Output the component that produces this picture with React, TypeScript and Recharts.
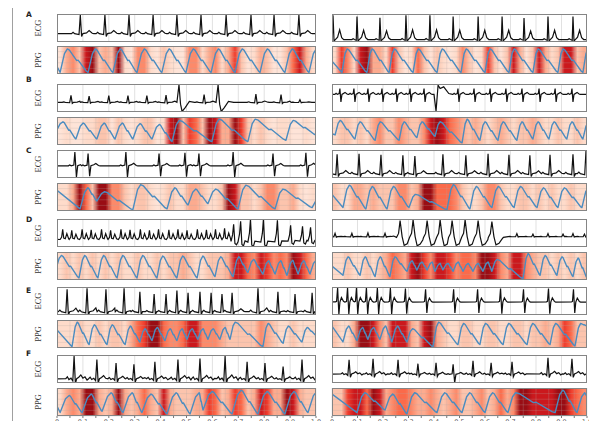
import React from "react";
import {
  ComposedChart,
  Line,
  XAxis,
  YAxis,
  CartesianGrid,
  ReferenceArea,
  ReferenceLine,
} from "recharts";

const ROW_LABELS = ["A", "B", "C", "D", "E", "F"];
const X_TICKS = [0, 0.05, 0.1, 0.15, 0.2, 0.25, 0.3, 0.35, 0.4, 0.45, 0.5, 0.55, 0.6, 0.65, 0.7, 0.75, 0.8, 0.85, 0.9, 0.95, 1];
const X_TICK_LABELS = ["0", "0.1", "0.2", "0.3", "0.4", "0.5", "0.6", "0.7", "0.8", "0.9", "1.0"];

// ecg beat shapes, [offset, value]
const TPL: Record<string, number[][]> = {
  n: [[-0.034, 0], [-0.028, 0.07], [-0.022, 0], [-0.005, -0.05], [0, 1], [0.005, -0.15], [0.01, 0], [0.024, 0.04], [0.034, 0.16], [0.046, 0.02], [0.052, 0]],
  t: [[-0.02, 0], [-0.015, 0.04], [-0.01, 0], [-0.003, -0.03], [0, 1], [0.004, -0.06], [0.009, 0], [0.018, 0.1], [0.026, 0.4], [0.034, 0.08], [0.042, 0]],
  rs: [[-0.02, 0], [-0.015, 0.06], [-0.01, 0], [-0.003, 0.05], [0, 0.35], [0.004, -0.45], [0.008, 0], [0.02, 0.12], [0.028, 0.02], [0.032, 0]],
  pd: [[-0.008, 0], [0, -1], [0.008, 0.55], [0.016, 0.35], [0.03, 0.45], [0.05, 0.05], [0.065, 0]],
  pu: [[-0.008, 0], [0, 1], [0.006, -0.1], [0.012, -0.52], [0.024, -0.3], [0.04, 0.05], [0.06, 0]],
  bi: [[-0.025, 0], [-0.02, 0.06], [-0.014, 0], [-0.004, 0.05], [0, 0.95], [0.006, -0.8], [0.011, 0], [0.022, 0.08], [0.03, 0.18], [0.04, 0.02], [0.046, 0]],
  bt: [[-0.006, 0.02], [-0.002, 0.05], [0.002, 0.95], [0.007, -0.8], [0.011, 0], [0.017, 0.3], [0.025, 0.05], [0.03, 0]],
  d: [[-0.008, -0.02], [-0.002, 0.1], [0.002, 0.5], [0.006, 0.05], [0.012, 0.02], [0.018, 0.28], [0.025, 0.02]],
  dt: [[-0.008, -0.15], [-0.002, 0.3], [0.002, 1], [0.007, -0.3], [0.013, -0.38], [0.019, -0.1]],
  vt: [[-0.014, -0.05], [-0.006, 0.2], [0, 1], [0.008, 0], [0.016, -0.55], [0.028, -0.45], [0.038, -0.2], [0.045, -0.05]],
  f: [[-0.032, 0.02], [-0.026, 0.1], [-0.02, -0.02], [-0.012, 0.04], [-0.005, -0.08], [0, 1], [0.005, -0.2], [0.01, 0.02], [0.018, 0.08], [0.026, 0.18], [0.034, 0.04], [0.042, 0.1], [0.05, -0.04], [0.056, 0.03]],
};

// ecg beats: [time, amplitude, shape]
const ECG_A_L = [[0.09, 1, "n"], [0.185, 1, "n"], [0.278, 1, "n"], [0.371, 1, "n"], [0.463, 1, "n"], [0.556, 1, "n"], [0.653, 1, "n"], [0.749, 1, "n"], [0.838, 1, "n"], [0.934, 1, "n"]];
const ECG_A_R = [[0.004, 1, "t"], [0.098, 0.95, "t"], [0.188, 0.9, "t"], [0.29, 1, "t"], [0.384, 1, "t"], [0.475, 0.95, "t"], [0.573, 0.95, "t"], [0.667, 0.95, "t"], [0.753, 0.88, "t"], [0.847, 0.95, "t"], [0.945, 0.95, "t"]];
const ECG_B_L = [[0.054, 0.4, "n"], [0.124, 0.36, "n"], [0.2, 0.38, "n"], [0.274, 0.38, "n"], [0.347, 0.38, "n"], [0.421, 0.42, "n"], [0.471, 1, "pu"], [0.568, 0.45, "n"], [0.622, 1, "pu"], [0.768, 0.48, "n"], [0.865, 0.45, "n"], [0.938, 0.15, "n"]];
const ECG_B_R = [[0.031, 1, "rs"], [0.086, 1, "rs"], [0.141, 1, "rs"], [0.196, 1, "rs"], [0.251, 1, "rs"], [0.306, 1, "rs"], [0.361, 1, "rs"], [0.408, 1, "pd"], [0.494, 1, "rs"], [0.557, 1, "rs"], [0.62, 1, "rs"], [0.682, 1, "rs"], [0.745, 1, "rs"], [0.812, 1, "rs"], [0.875, 1, "rs"], [0.941, 1, "rs"]];
const ECG_C_L = [[0.069, 1, "bi"], [0.12, 0.9, "bi"], [0.266, 1, "bi"], [0.394, 0.9, "bi"], [0.494, 0.95, "bi"], [0.548, 0.9, "bi"], [0.68, 1, "bi"], [0.834, 0.9, "bi"], [0.961, 0.95, "bi"]];
const ECG_C_R = [[0.02, 0.9, "n"], [0.106, 0.92, "n"], [0.192, 0.88, "n"], [0.278, 0.85, "n"], [0.325, 0.82, "n"], [0.435, 0.9, "n"], [0.525, 0.85, "n"], [0.612, 0.92, "n"], [0.694, 0.88, "n"], [0.776, 0.85, "n"], [0.855, 0.88, "n"], [0.945, 0.9, "n"], [0.996, 1.05, "n"]];
const ECG_D_L = [[0.02, 1, "d"], [0.055, 0.9, "d"], [0.095, 1, "d"], [0.13, 0.95, "d"], [0.17, 1, "d"], [0.205, 0.9, "d"], [0.245, 1, "d"], [0.28, 0.95, "d"], [0.32, 1, "d"], [0.355, 0.9, "d"], [0.39, 1, "d"], [0.43, 0.95, "d"], [0.465, 1, "d"], [0.5, 0.9, "d"], [0.54, 1, "d"], [0.575, 0.95, "d"], [0.61, 1, "d"], [0.645, 1.1, "d"], [0.68, 0.75, "dt"], [0.707, 0.9, "dt"], [0.745, 1, "dt"], [0.795, 1, "dt"], [0.849, 0.95, "dt"], [0.9, 0.7, "dt"], [0.946, 0.65, "dt"], [0.977, 0.6, "dt"]];
const ECG_D_R = [[0.012, 0.2, "n"], [0.078, 0.2, "n"], [0.141, 0.22, "n"], [0.208, 0.2, "n"], [0.267, 0.95, "vt"], [0.318, 1, "vt"], [0.373, 0.95, "vt"], [0.424, 1, "vt"], [0.471, 0.95, "vt"], [0.522, 1, "vt"], [0.573, 0.95, "vt"], [0.627, 0.9, "vt"], [0.725, 0.18, "n"], [0.788, 0.15, "n"], [0.847, 0.18, "n"], [0.906, 0.15, "n"], [0.945, 0.18, "n"], [0.99, 0.15, "n"]];
const ECG_E_L = [[0.039, 0.95, "n"], [0.116, 1, "n"], [0.189, 0.95, "n"], [0.259, 1, "n"], [0.32, 0.85, "n"], [0.375, 0.75, "n"], [0.421, 0.75, "n"], [0.463, 0.9, "n"], [0.506, 0.8, "n"], [0.552, 0.85, "n"], [0.595, 0.8, "n"], [0.637, 0.75, "n"], [0.676, 0.8, "n"], [0.776, 1, "n"], [0.853, 0.85, "n"], [0.919, 0.75, "n"], [0.985, 0.8, "n"]];
const ECG_E_R = [[0.02, 1, "bt"], [0.059, 1, "bt"], [0.094, 1, "bt"], [0.133, 1, "bt"], [0.176, 1, "bt"], [0.227, 1, "bt"], [0.286, 0.95, "bt"], [0.365, 0.9, "bt"], [0.475, 0.9, "bt"], [0.569, 0.9, "bt"], [0.659, 0.95, "bt"], [0.749, 0.9, "bt"], [0.847, 0.95, "bt"], [0.945, 0.9, "bt"]];
const ECG_F_L = [[0.066, 1, "f"], [0.154, 0.85, "f"], [0.228, 0.7, "f"], [0.297, 0.65, "f"], [0.378, 0.75, "f"], [0.467, 0.85, "f"], [0.552, 0.9, "f"], [0.649, 1, "f"], [0.734, 0.75, "f"], [0.803, 0.7, "f"], [0.873, 0.55, "f"], [0.946, 0.85, "f"]];
const ECG_F_R = [[0.067, 0.75, "f"], [0.161, 0.8, "f"], [0.259, 0.75, "f"], [0.337, 0.55, "f"], [0.408, 0.6, "f"], [0.475, 0.55, "bi"], [0.553, 0.7, "f"], [0.624, 0.6, "f"], [0.706, 0.65, "f"], [0.847, 0.85, "f"], [0.941, 0.8, "f"]];

// ppg beats: [foot time, foot level, peak level]
const PPG_A_L = [[0.012, 0.03, 0.92], [0.12, 0.03, 0.92], [0.216, 0.03, 0.92], [0.309, 0.03, 0.92], [0.405, 0.03, 0.92], [0.498, 0.03, 0.92], [0.595, 0.03, 0.92], [0.687, 0.03, 0.92], [0.784, 0.03, 0.92], [0.88, 0.03, 0.92], [0.973, 0.03, 0.92]];
const PPG_A_R = [[0.039, 0.03, 0.92], [0.137, 0.03, 0.92], [0.224, 0.03, 0.92], [0.318, 0.03, 0.92], [0.412, 0.03, 0.92], [0.506, 0.03, 0.92], [0.6, 0.03, 0.92], [0.694, 0.03, 0.92], [0.788, 0.03, 0.92], [0.886, 0.03, 0.92], [0.984, 0.03, 0.92]];
const PPG_B_L = [[-0.005, 0.45, 0.85], [0.073, 0.2, 0.8], [0.154, 0.2, 0.8], [0.224, 0.2, 0.8], [0.293, 0.2, 0.78], [0.367, 0.2, 0.75], [0.444, 0.1, 0.9], [0.598, 0.1, 0.95], [0.737, 0.1, 0.95], [0.884, 0.15, 0.9]];
const PPG_B_R = [[0.012, 0.35, 0.9], [0.09, 0.2, 0.85], [0.169, 0.15, 0.85], [0.263, 0.15, 0.85], [0.333, 0.25, 0.85], [0.404, 0.3, 0.85], [0.51, 0.05, 0.95], [0.58, 0.15, 0.85], [0.651, 0.15, 0.85], [0.725, 0.15, 0.85], [0.788, 0.2, 0.85], [0.851, 0.2, 0.85], [0.921, 0.2, 0.85], [0.984, 0.2, 0.8]];
const PPG_C_L = [[0.089, 0.05, 0.85], [0.154, 0.35, 0.7], [0.293, 0.02, 0.97], [0.425, 0.05, 0.85], [0.506, 0.2, 0.8], [0.583, 0.25, 0.8], [0.699, 0.05, 0.95], [0.842, 0.05, 0.8], [0.985, 0.1, 0.5]];
const PPG_C_R = [[0.043, 0.1, 0.95], [0.133, 0.05, 0.9], [0.216, 0.05, 0.9], [0.302, 0.1, 0.6], [0.451, 0.02, 0.97], [0.541, 0.05, 0.9], [0.627, 0.1, 0.9], [0.714, 0.1, 0.9], [0.804, 0.1, 0.85], [0.886, 0.1, 0.85], [0.98, 0.1, 0.85]];
const PPG_D_L = [[-0.005, 0.35, 0.9], [0.085, 0.05, 0.9], [0.158, 0.05, 0.9], [0.232, 0.05, 0.9], [0.309, 0.05, 0.9], [0.386, 0.05, 0.88], [0.463, 0.05, 0.88], [0.541, 0.05, 0.88], [0.61, 0.1, 0.85], [0.68, 0.1, 0.85], [0.737, 0.25, 0.75], [0.795, 0.2, 0.7], [0.842, 0.2, 0.7], [0.888, 0.15, 0.72], [0.931, 0.2, 0.7], [0.977, 0.2, 0.7]];
const PPG_D_R = [[0.043, 0.15, 0.85], [0.11, 0.15, 0.85], [0.169, 0.1, 0.85], [0.227, 0.1, 0.85], [0.294, 0.3, 0.7], [0.333, 0.35, 0.65], [0.373, 0.35, 0.65], [0.404, 0.3, 0.6], [0.435, 0.35, 0.6], [0.475, 0.3, 0.65], [0.514, 0.3, 0.6], [0.553, 0.3, 0.6], [0.592, 0.3, 0.65], [0.627, 0.3, 0.75], [0.749, 0.02, 0.97], [0.816, 0.15, 0.9], [0.882, 0.15, 0.85], [0.945, 0.1, 0.8]];
const PPG_E_L = [[0.058, 0.02, 0.95], [0.124, 0.1, 0.85], [0.193, 0.1, 0.85], [0.263, 0.1, 0.8], [0.32, 0.2, 0.7], [0.367, 0.25, 0.75], [0.417, 0.25, 0.7], [0.463, 0.25, 0.7], [0.502, 0.3, 0.7], [0.544, 0.3, 0.7], [0.583, 0.3, 0.7], [0.629, 0.3, 0.75], [0.668, 0.3, 0.95], [0.795, 0.02, 0.9], [0.873, 0.15, 0.8], [0.946, 0.2, 0.75]];
const PPG_E_R = [[0.043, 0.2, 0.8], [0.098, 0.25, 0.75], [0.141, 0.3, 0.75], [0.188, 0.3, 0.8], [0.235, 0.2, 0.8], [0.294, 0.2, 0.7], [0.396, 0.02, 0.95], [0.494, 0.1, 0.9], [0.58, 0.1, 0.9], [0.671, 0.1, 0.9], [0.765, 0.1, 0.9], [0.855, 0.1, 0.9], [0.953, 0.05, 0.9]];
const PPG_F_L = [[0.012, 0.1, 0.75], [0.097, 0.1, 0.8], [0.174, 0.15, 0.85], [0.255, 0.1, 0.85], [0.328, 0.1, 0.8], [0.425, 0.05, 0.85], [0.514, 0.05, 0.85], [0.564, 0.2, 0.9], [0.676, 0.05, 0.95], [0.776, 0.05, 0.9], [0.88, 0.05, 0.9], [0.969, 0.1, 0.9]];
const PPG_F_R = [[0.098, 0.1, 0.85], [0.208, 0.2, 0.8], [0.294, 0.05, 0.85], [0.412, 0.1, 0.85], [0.51, 0.1, 0.85], [0.6, 0.1, 0.85], [0.69, 0.1, 0.85], [0.875, 0.1, 0.95], [0.961, 0.1, 0.85]];

// attention heat, 40 bins per strip, 0..9
const HEAT_A_L = "1453893439215521321155245247312431136842";
const HEAT_A_R = "2752894427312631321253127313841384238834";
const HEAT_B_L = "1211223313212331289376398449732321221121";
const HEAT_B_R = "2332324533543358986543432343233432232232";
const HEAT_C_L = "2249639955323321232244322398332355334212";
const HEAT_C_R = "3224434333553499666532235532233232322322";
const HEAT_D_L = "2323232323223223233432233348865875659864";
const HEAT_D_R = "2232232346548975887566599854885433232323";
const HEAT_E_L = "2223223233246799655688555433333543223222";
const HEAT_E_R = "3224998538884389432233223322332334347633";
const HEAT_F_L = "2454994349434643843334476347634874498433";
const HEAT_F_R = "3378869845665445434533453464599888899765";

const HEAT_COLORS = ["#feebe2", "#fee4d8", "#fedbca", "#fcc4ad", "#fcab8f", "#fc8a6a", "#fb6a4a", "#ef3d2d", "#cb181d", "#990d14"];

const PANELS = [
  [
    { ecg: ECG_A_L, ecgDom: [-0.45, 1.05], ppg: PPG_A_L, start: 0.25, end: 0.8, rise: 0.028, heat: HEAT_A_L },
    { ecg: ECG_A_R, ecgDom: [-0.1, 1.05], ppg: PPG_A_R, start: 0.45, end: 0.8, rise: 0.02, heat: HEAT_A_R },
  ],
  [
    { ecg: ECG_B_L, ecgDom: [-0.55, 1.05], ppg: PPG_B_L, start: 0.5, end: 0.35, rise: 0.028, heat: HEAT_B_L },
    { ecg: ECG_B_R, ecgDom: [-1.05, 0.62], ppg: PPG_B_R, start: 0.4, end: 0.7, rise: 0.02, heat: HEAT_B_R },
  ],
  [
    { ecg: ECG_C_L, ecgDom: [-0.85, 1.1], ppg: PPG_C_L, start: 0.75, end: 0.45, rise: 0.03, heat: HEAT_C_L },
    { ecg: ECG_C_R, ecgDom: [-0.2, 1.1], ppg: PPG_C_R, start: 0.6, end: 0.8, rise: 0.025, heat: HEAT_C_R },
  ],
  [
    { ecg: ECG_D_L, ecgDom: [-0.4, 1.02], ppg: PPG_D_L, start: 0.35, end: 0.5, rise: 0.022, heat: HEAT_D_L },
    { ecg: ECG_D_R, ecgDom: [-0.62, 1.05], ppg: PPG_D_R, start: 0.5, end: 0.05, rise: 0.02, heat: HEAT_D_R },
  ],
  [
    { ecg: ECG_E_L, ecgDom: [-0.14, 1.05], ppg: PPG_E_L, start: 0.65, end: 0.45, rise: 0.02, heat: HEAT_E_L },
    { ecg: ECG_E_R, ecgDom: [-0.85, 1.0], ppg: PPG_E_R, start: 0.8, end: 0.8, rise: 0.022, heat: HEAT_E_R },
  ],
  [
    { ecg: ECG_F_L, ecgDom: [-0.17, 1.05], ppg: PPG_F_L, start: 0.35, end: 0.85, rise: 0.035, heat: HEAT_F_L },
    { ecg: ECG_F_R, ecgDom: [-0.45, 1.0], ppg: PPG_F_R, start: 0.8, end: 0.7, rise: 0.03, heat: HEAT_F_R },
  ],
];

const COL_X = [57, 332];
const COL_W = [259, 255];
const ECG_TOP = [14, 84, 150, 219, 287, 355];
const PPG_TOP = [46, 117, 183, 252, 320, 388];
const LETTER_Y = [17, 82, 153, 222, 293, 356];
const STRIP_H = 28;
const AXIS_H = 14;
const SIDE_PAD = 10;
const PPG_DOM = [-0.03, 1.03];

function buildEcg(beats: any[]) {
  const pts = [{ t: -0.02, v: 0 }];
  beats.forEach(([t, a, k]: any, i: number) => {
    const next = beats[i + 1];
    const limit = next ? next[0] + TPL[next[2]][0][0] : 2;
    TPL[k].forEach(([dt, v]) => {
      if (t + dt < limit) pts.push({ t: t + dt, v: v * a });
    });
  });
  pts.push({ t: 1.02, v: 0 });
  return pts.sort((p, q) => p.t - q.t);
}

function buildPpg(feet: number[][], start: number, end: number, rise: number) {
  const pts: { t: number; v: number }[] = [];
  if (feet[0][0] > 0) pts.push({ t: 0, v: start });
  feet.forEach(([f, lo, hi], i) => {
    const next = feet[i + 1];
    const nt = next ? next[0] : 1;
    const nv = next ? next[1] : end;
    const pk = f + rise;
    pts.push({ t: f, v: lo });
    pts.push({ t: f + rise * 0.6, v: lo + (hi - lo) * 0.8 });
    pts.push({ t: pk, v: hi });
    if (pk < nt) {
      const gap = nt - pk;
      pts.push({ t: pk + gap * 0.1, v: hi - (hi - nv) * 0.05 });
      pts.push({ t: pk + gap * 0.45, v: hi - (hi - nv) * 0.5 });
      pts.push({ t: pk + gap * 0.52, v: hi - (hi - nv) * 0.48 });
      pts.push({ t: pk + gap * 0.92, v: hi - (hi - nv) * 0.95 });
      if (!next) pts.push({ t: 1, v: end });
    }
  });
  return pts;
}

function ticksFor(dom: number[]) {
  return [0, 1, 2, 3, 4, 5].map((k) => dom[0] + ((dom[1] - dom[0]) * k) / 5);
}

function EcgStrip({ beats, dom, w }: any) {
  const data = buildEcg(beats);
  return (
    <ComposedChart width={w} height={STRIP_H} data={data} margin={{ top: 0, right: 0, bottom: 0, left: 0 }}>
      <CartesianGrid stroke="#d4d4d4" strokeWidth={0.7} />
      <XAxis dataKey="t" type="number" domain={[0, 1]} ticks={X_TICKS} hide allowDataOverflow />
      <YAxis type="number" domain={dom} ticks={ticksFor(dom)} hide allowDataOverflow />
      <Line type="linear" dataKey="v" stroke="#111" strokeWidth={1.2} dot={false} isAnimationActive={false} />
    </ComposedChart>
  );
}

function PpgStrip({ cfg, w, id, bottom }: any) {
  const data = buildPpg(cfg.ppg, cfg.start, cfg.end, cfg.rise);
  const heat: string = cfg.heat;
  const pad = bottom ? SIDE_PAD : 0;
  return (
    <ComposedChart
      width={w + pad * 2}
      height={STRIP_H + (bottom ? AXIS_H : 0)}
      data={data}
      margin={{ top: 0, right: pad, bottom: 0, left: pad }}
    >
      <defs>
        <linearGradient id={id} x1="0" y1="0" x2="1" y2="0">
          {heat.split("").map((c, i) => (
            <stop key={i} offset={(i + 0.5) / heat.length} stopColor={HEAT_COLORS[Number(c)]} />
          ))}
        </linearGradient>
      </defs>
      <XAxis
        dataKey="t"
        type="number"
        domain={[0, 1]}
        ticks={X_TICKS}
        hide={!bottom}
        height={AXIS_H}
        allowDataOverflow
        axisLine={false}
        tickSize={2}
        tickMargin={1}
        tickLine={{ stroke: "#777" }}
        interval={0}
        tick={{ fontSize: 6.5, fill: "#555", fontFamily: "DejaVu Sans" }}
        tickFormatter={(v: number, i: number) => (i % 2 === 0 ? X_TICK_LABELS[i / 2] : "")}
      />
      <YAxis type="number" domain={PPG_DOM} hide allowDataOverflow />
      <ReferenceArea x1={0} x2={1} y1={PPG_DOM[0]} y2={PPG_DOM[1]} fill={`url(#${id})`} fillOpacity={1} stroke="none" />
      {X_TICKS.map((t) => (
        <ReferenceLine key={"x" + t} x={t} stroke="#b4a8a4" strokeOpacity={0.35} strokeWidth={0.7} />
      ))}
      {ticksFor(PPG_DOM).map((t) => (
        <ReferenceLine key={"y" + t} y={t} stroke="#b4a8a4" strokeOpacity={0.35} strokeWidth={0.7} />
      ))}
      <Line type="linear" dataKey="v" stroke="#4b8cc0" strokeWidth={1.4} strokeLinejoin="round" dot={false} isAnimationActive={false} />
    </ComposedChart>
  );
}

export default function App() {
  return (
    <div style={{ position: "relative", width: 597, height: 429, margin: -8, background: "#fff", overflow: "hidden" }}>
      <div style={{ position: "absolute", left: 12, top: 5, width: 620, height: 460, borderTop: "1.5px solid #a0a0a0", borderLeft: "1.5px solid #a0a0a0" }} />
      {PANELS.map((row, r) =>
        row.map((cfg, c) => (
          <React.Fragment key={r + "-" + c}>
            <div style={{ position: "absolute", left: COL_X[c], top: ECG_TOP[r] }}>
              <EcgStrip beats={cfg.ecg} dom={cfg.ecgDom} w={COL_W[c]} />
            </div>
            <div style={{ position: "absolute", left: COL_X[c] - (r === 5 ? SIDE_PAD : 0), top: PPG_TOP[r] }}>
              <PpgStrip cfg={cfg} w={COL_W[c]} id={`heat${r}${c}`} bottom={r === 5} />
            </div>
            <div style={{ position: "absolute", left: COL_X[c], top: ECG_TOP[r], width: COL_W[c], height: STRIP_H, border: "1px solid #858585", boxSizing: "border-box" }} />
            <div style={{ position: "absolute", left: COL_X[c], top: PPG_TOP[r], width: COL_W[c], height: STRIP_H, border: "1px solid #858585", boxSizing: "border-box" }} />
          </React.Fragment>
        ))
      )}
      <svg width={597} height={429} style={{ position: "absolute", left: 0, top: 0, pointerEvents: "none" }}>
        {ROW_LABELS.map((l, r) => (
          <g key={l}>
            <text x={26} y={LETTER_Y[r]} fontSize={7.5} fontWeight="bold" fontFamily="DejaVu Sans" fill="#222">
              {l}
            </text>
            <text
              transform={`translate(41 ${ECG_TOP[r] + STRIP_H / 2}) rotate(-90)`}
              textAnchor="middle"
              fontSize={8.5}
              fontFamily="Liberation Serif"
              fill="#333"
            >
              ECG
            </text>
            <text
              transform={`translate(41 ${PPG_TOP[r] + STRIP_H / 2}) rotate(-90)`}
              textAnchor="middle"
              fontSize={8.5}
              fontFamily="Liberation Serif"
              fill="#333"
            >
              PPG
            </text>
          </g>
        ))}
      </svg>
    </div>
  );
}
